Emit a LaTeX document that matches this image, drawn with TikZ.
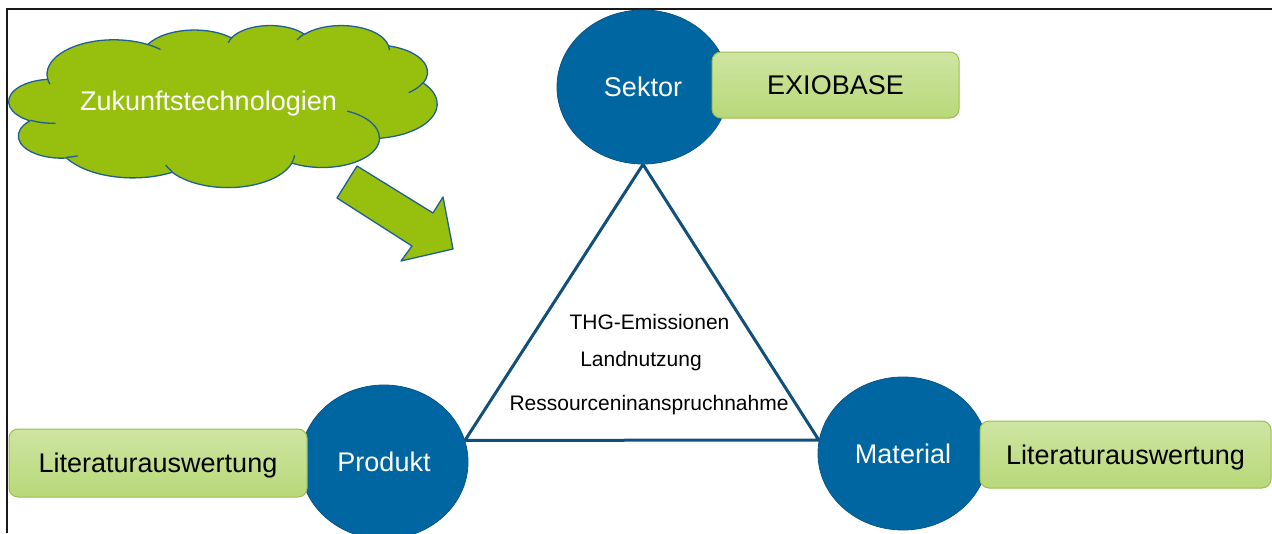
\documentclass[tikz,border=0pt]{standalone}
\usepackage{fontspec}
\setmainfont{Liberation Sans}
\usetikzlibrary{shapes.geometric,backgrounds}

\definecolor{leafgreen}{RGB}{151,191,13}
\definecolor{inkblue}{RGB}{31,95,150}
\definecolor{discblue}{RGB}{0,102,161}
\definecolor{discedge}{RGB}{10,85,135}
\definecolor{triblue}{RGB}{17,80,122}
\definecolor{boxtop}{RGB}{206,229,162}
\definecolor{boxbot}{RGB}{184,216,120}
\definecolor{boxedge}{RGB}{155,190,80}
\definecolor{framegray}{RGB}{25,25,25}

\tikzset{
  bigtext/.style={font=\fontsize{27}{32}\selectfont, text height=19.5pt, text depth=0pt},
  tritext/.style={font=\fontsize{21}{25}\selectfont, inner sep=0pt},
  disc/.style={ellipse, draw=discedge, line width=0.8pt, fill=discblue,
    text=white, inner sep=0pt, bigtext},
  srcbox/.style={rectangle, rounded corners=9pt, draw=boxedge, line width=1pt,
    top color=boxtop, bottom color=boxbot, inner sep=0pt, bigtext},
  triline/.style={draw=triblue, line width=3pt},
  greenshape/.style={fill=leafgreen, draw=inkblue, line width=1.3pt, line join=round},
  cloudseam/.style={draw=inkblue, line width=1.3pt},
}

\begin{document}
\begin{tikzpicture}[x=1pt, y=-1pt]
\useasboundingbox (0,0) rectangle (1272,533);
\begin{scope}[on background layer]
  \fill[white] (0,0) rectangle (1272,533);
\end{scope}

% outer border of the slide area
\draw[framegray, line width=2pt] (7,533) -- (7,9) -- (1272,9);

% cloud outline: chain of elliptic arcs (radii, start angle, sweep)
\def\cloudouter{}
\foreach \arw/\arh/\asa/\asw in {
  67.53/91.90/-190.487/123.781,
  53.33/72.67/-144.102/89.945,
  43.65/59.45/-145.808/99.723,
  48.57/65.95/-130.986/117.242,
  53.33/72.73/-78.709/109.027,
  67.75/92.20/-46.267/130.269,
  57.85/78.67/0.625/114.033,
  67.52/92.15/22.452/115.173,
  77.20/105.43/66.243/75.711,
  43.60/59.18/-274.942/146.736,
  43.45/59.45/-246.829/152.519}{%
  \pgfmathsetmacro\cta{atan2(\arw*sin(\asa),\arh*cos(\asa))}%
  \pgfmathsetmacro\ctb{atan2(\arw*sin(\asa+\asw),\arh*cos(\asa+\asw))}%
  \pgfmathsetmacro\cdl{(\ctb)-(\cta)+360*round((\asw-(\ctb)+(\cta))/360)}%
  \xdef\cloudouter{\cloudouter arc[x radius=\arw pt, y radius=\arh pt, start angle=\cta, delta angle=\cdl]}%
}
% inner seams of the cloud
\def\cloudinner{}
\foreach \ax/\ay/\arw/\arh/\asa/\asw in {
  46.93/261.77/43.45/59.45/86.742/26.430,
  69.28/348.99/43.60/59.18/73.611/11.448,
  164.78/390.90/67.52/92.15/137.624/14.081,
  288.27/347.51/67.52/92.15/6.453/15.998,
  341.29/229.54/57.85/78.67/-70.292/70.917,
  417.98/153.54/53.33/72.73/30.318/27.752,
  383.24/54.26/48.57/65.95/-13.744/14.859,
  290.78/39.52/48.57/65.95/-149.182/18.195,
  221.41/47.20/43.65/59.45/-163.494/17.686,
  140.00/51.92/67.53/91.90/-66.707/12.319,
  41.27/157.89/67.53/91.90/157.654/11.854}{%
  \pgfmathsetmacro\cta{atan2(\arw*sin(\asa),\arh*cos(\asa))}%
  \pgfmathsetmacro\ctb{atan2(\arw*sin(\asa+\asw),\arh*cos(\asa+\asw))}%
  \pgfmathsetmacro\cdl{(\ctb)-(\cta)+360*round((\asw-(\ctb)+(\cta))/360)}%
  \xdef\cloudinner{\cloudinner (\ax,\ay) arc[x radius=\arw pt, y radius=\arh pt, start angle=\cta, delta angle=\cdl]}%
}
\begin{scope}[shift={(9,25)}, x=1pt, y=1pt, xscale=0.9907, yscale=-0.375]
  \path[greenshape] (39.00,143.70) \cloudouter -- cycle;
  \path[cloudseam] \cloudinner;
\end{scope}
\node[bigtext, text=white, inner sep=0pt] (zukunft) at (208.5,101) {Zukunftstechnologien};

% block arrow pointing towards the triangle
\path[greenshape] (357,166) -- (433,213) -- (443,197) -- (453,249)
  -- (401,261) -- (412,246) -- (337,198) -- cycle;

% the three perspectives
\node[disc, minimum width=172pt, minimum height=154pt] (sektor) at (643,87) {Sektor};
\node[disc, minimum width=168pt, minimum height=154pt] (produkt) at (384,462) {Produkt};
\node[disc, minimum width=170pt, minimum height=153pt] (material) at (903,453.5) {Material};

% triangle joining them, kept behind the discs
\begin{scope}[on background layer]
  \draw[triline] (sektor.south) -- (produkt.15) -- (material.171) -- cycle;
\end{scope}

% indicators inside the triangle
\node[tritext, anchor=base] (thg) at (649.5,329) {THG-Emissionen};
\node[tritext, anchor=base] (land) at (641,366) {Landnutzung};
\node[tritext, anchor=base] (res) at (649,410) {Ressourceninanspruchnahme};

% data sources
\node[srcbox, minimum width=247pt, minimum height=66pt] (exio) at (835.5,85) {EXIOBASE};
\node[srcbox, minimum width=298pt, minimum height=68pt] (litleft) at (158,463) {Literaturauswertung};
\node[srcbox, minimum width=291pt, minimum height=67pt] (litright) at (1125.5,454.5) {Literaturauswertung};
\end{tikzpicture}
\end{document}
